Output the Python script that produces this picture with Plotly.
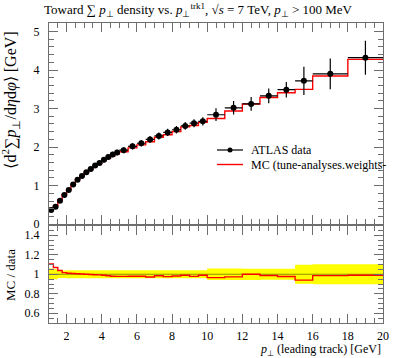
import numpy as np
import plotly.graph_objects as go

# ---- data ----
bin_edges = [1.0, 1.25, 1.5, 1.75, 2.0, 2.25, 2.5, 2.75, 3.0, 3.25, 3.5, 3.75, 4.0,
             4.25, 4.5, 4.75, 5.0, 5.5, 6.0, 6.5, 7.0, 7.5, 8.0, 8.5, 9.0, 9.5, 10.0,
             11.0, 12.0, 13.0, 14.0, 15.0, 16.0, 18.0, 20.0]
data_y = [0.37, 0.45, 0.61, 0.76, 0.89, 1.03, 1.15, 1.25, 1.35, 1.43, 1.52, 1.59,
          1.67, 1.74, 1.81, 1.86, 1.92, 2.02, 2.10, 2.20, 2.29, 2.38, 2.45, 2.55,
          2.62, 2.67, 2.84, 3.02, 3.12, 3.33, 3.49, 3.72, 3.90, 4.32]
data_err = [0.022, 0.023, 0.024, 0.030, 0.036, 0.041, 0.046, 0.050, 0.054, 0.057,
            0.061, 0.064, 0.067, 0.070, 0.072, 0.074, 0.077, 0.081, 0.084, 0.088,
            0.092, 0.095, 0.098, 0.102, 0.105, 0.107, 0.165, 0.175, 0.180, 0.190,
            0.200, 0.365, 0.400, 0.440]
mc_y = [0.409, 0.481, 0.633, 0.773, 0.899, 1.038, 1.156, 1.254, 1.350, 1.427,
        1.512, 1.579, 1.653, 1.714, 1.774, 1.819, 1.878, 1.980, 2.058, 2.138,
        2.256, 2.321, 2.406, 2.525, 2.562, 2.643, 2.743, 2.938, 3.120, 3.287,
        3.410, 3.497, 3.845, 4.277]

title_text = ("Toward ∑ <i>p</i><sub>⊥</sub> density vs. <i>p</i><sub>⊥</sub><sup>trk1</sup>, "
              "√<i>s</i> = 7 TeV, <i>p</i><sub>⊥</sub> > 100 MeV")
ytitle_main = "⟨d<sup>2</sup>∑<i>p</i><sub>⊥</sub>/d<i>η</i>d<i>φ</i>⟩ [GeV]"
ytitle_ratio = "MC / data"
xtitle = "<i>p</i><sub>⊥</sub> (leading track) [GeV]"
leg_data = "ATLAS data"
leg_mc = "MC (tune-analyses.weights-"

# ---- derived ----
edges = np.array(bin_edges)
centers = (edges[:-1] + edges[1:]) / 2
halfw = (edges[1:] - edges[:-1]) / 2
dy = np.array(data_y)
de = np.array(data_err)
mc = np.array(mc_y)
ratio = mc / dy
rel = de / dy

def step(v):
    v = list(v)
    return v + [v[-1]]

FONT = "Liberation Serif"
AXC = "#6e6e6e"
W, H = 397, 358
L, R, T, B = 49, 14, 23, 35
pw, ph = W - L - R, H - T - B

fig = go.Figure()

# main panel
fig.add_trace(go.Scatter(
    x=list(edges), y=step(mc), mode="lines", line=dict(color="#ff0000", width=1.4, shape="hv"),
    xaxis="x2", yaxis="y2", showlegend=False, hoverinfo="skip"))
fig.add_trace(go.Scatter(
    x=list(centers), y=list(dy), mode="markers",
    marker=dict(color="black", size=6, symbol="circle"),
    error_y=dict(type="data", array=list(de), color="black", thickness=1.2, width=0),
    error_x=dict(type="data", array=list(halfw), color="black", thickness=1.2, width=0),
    xaxis="x2", yaxis="y2", showlegend=False))

# ratio panel
fig.add_trace(go.Scatter(
    x=list(edges), y=step(1 - rel), mode="lines", line=dict(width=0, shape="hv", color="yellow"),
    xaxis="x", yaxis="y", showlegend=False, hoverinfo="skip"))
fig.add_trace(go.Scatter(
    x=list(edges), y=step(1 + rel), mode="lines", line=dict(width=0, shape="hv", color="yellow"),
    fill="tonexty", fillcolor="#ffff00",
    xaxis="x", yaxis="y", showlegend=False, hoverinfo="skip"))
fig.add_trace(go.Scatter(
    x=list(edges), y=step(np.ones_like(dy)), mode="lines",
    line=dict(color="rgba(0,0,0,0.45)", width=1, shape="hv"),
    xaxis="x", yaxis="y", showlegend=False, hoverinfo="skip"))
fig.add_trace(go.Scatter(
    x=list(edges), y=step(ratio), mode="lines",
    line=dict(color="#ff0000", width=1.4, shape="hv"),
    xaxis="x", yaxis="y", showlegend=False, hoverinfo="skip"))

ratio_top = (T + ph - 225.5) / ph
main_bot = (T + ph - 224.3) / ph

tickfont = dict(family=FONT, size=12, color="black")
xcommon = dict(range=[1, 20], showline=True, linecolor=AXC, linewidth=1, mirror="ticks",
               ticks="inside", ticklen=9, tickcolor=AXC, tickwidth=1, tick0=0, dtick=2,
               minor=dict(ticks="inside", ticklen=5, tickcolor=AXC, tickwidth=1, dtick=0.5, tick0=0),
               showgrid=False, zeroline=False, tickfont=tickfont)
fig.update_layout(
    width=W, height=H, margin=dict(l=L, r=R, t=T, b=B, autoexpand=False),
    paper_bgcolor="white", plot_bgcolor="white",
    xaxis=dict(**xcommon, anchor="y", domain=[0, 1], ticklabelstandoff=2),
    xaxis2=dict(**xcommon, anchor="y2", domain=[0, 1], showticklabels=False, matches="x"),
    yaxis=dict(domain=[0, ratio_top], range=[0.5, 1.5], showline=True, linecolor=AXC, mirror="ticks",
               ticks="inside", ticklen=9, tickcolor=AXC, tick0=0, dtick=0.2,
               minor=dict(ticks="inside", ticklen=5, tickcolor=AXC, dtick=0.05, tick0=0),
               showgrid=False, zeroline=False, tickfont=tickfont, ticklabelstandoff=6),
    yaxis2=dict(domain=[main_bot, 1], range=[-0.003, 5.22], showline=True, linecolor=AXC, mirror="ticks",
                ticks="inside", ticklen=9, tickcolor=AXC, tick0=0, dtick=1,
                minor=dict(ticks="inside", ticklen=5, tickcolor=AXC, dtick=0.2, tick0=0),
                showgrid=False, zeroline=False, tickfont=tickfont, ticklabelstandoff=6),
    showlegend=False,
)

def px_x(px):
    return (px - L) / pw

def px_y(py):
    return (T + ph - py) / ph

ann = []
ann.append(dict(text=title_text, xref="paper", yref="paper", x=px_x(198), y=px_y(10),
                xanchor="center", yanchor="middle", showarrow=False,
                font=dict(family=FONT, size=13, color="black")))
ann.append(dict(text=ytitle_main, xref="paper", yref="paper", x=px_x(10), y=px_y(30),
                xanchor="center", yanchor="top", textangle=-90, showarrow=False,
                font=dict(family=FONT, size=16, color="black")))
ann.append(dict(text=ytitle_ratio, xref="paper", yref="paper", x=px_x(10), y=px_y(275),
                xanchor="center", yanchor="middle", textangle=-90, showarrow=False,
                font=dict(family=FONT, size=13, color="black")))
ann.append(dict(text=xtitle, xref="paper", yref="paper", x=1, y=px_y(350),
                xanchor="right", yanchor="middle", showarrow=False,
                font=dict(family=FONT, size=12, color="black")))
ann.append(dict(text=leg_data, xref="paper", yref="paper", x=px_x(249), y=px_y(150),
                xanchor="left", yanchor="middle", showarrow=False,
                font=dict(family=FONT, size=12, color="black")))
ann.append(dict(text=leg_mc, xref="paper", yref="paper", x=px_x(249), y=px_y(164.5),
                xanchor="left", yanchor="middle", showarrow=False,
                font=dict(family=FONT, size=12, color="black")))
fig.update_layout(annotations=ann)

shapes = [
    dict(type="line", xref="paper", yref="paper", x0=px_x(217), x1=px_x(243), y0=px_y(150), y1=px_y(150),
         line=dict(color="black", width=1.2)),
    dict(type="circle", xref="paper", yref="paper", x0=px_x(227.5), x1=px_x(232.5),
         y0=px_y(152.5), y1=px_y(147.5), fillcolor="black", line=dict(color="black", width=0)),
    dict(type="line", xref="paper", yref="paper", x0=px_x(217), x1=px_x(243), y0=px_y(164.5), y1=px_y(164.5),
         line=dict(color="#ff0000", width=1.4)),
]
fig.update_layout(shapes=shapes)

fig.write_html("out.html", config={"displayModeBar": False},
               post_script="document.body.style.margin='0';document.body.style.overflow='hidden';")
